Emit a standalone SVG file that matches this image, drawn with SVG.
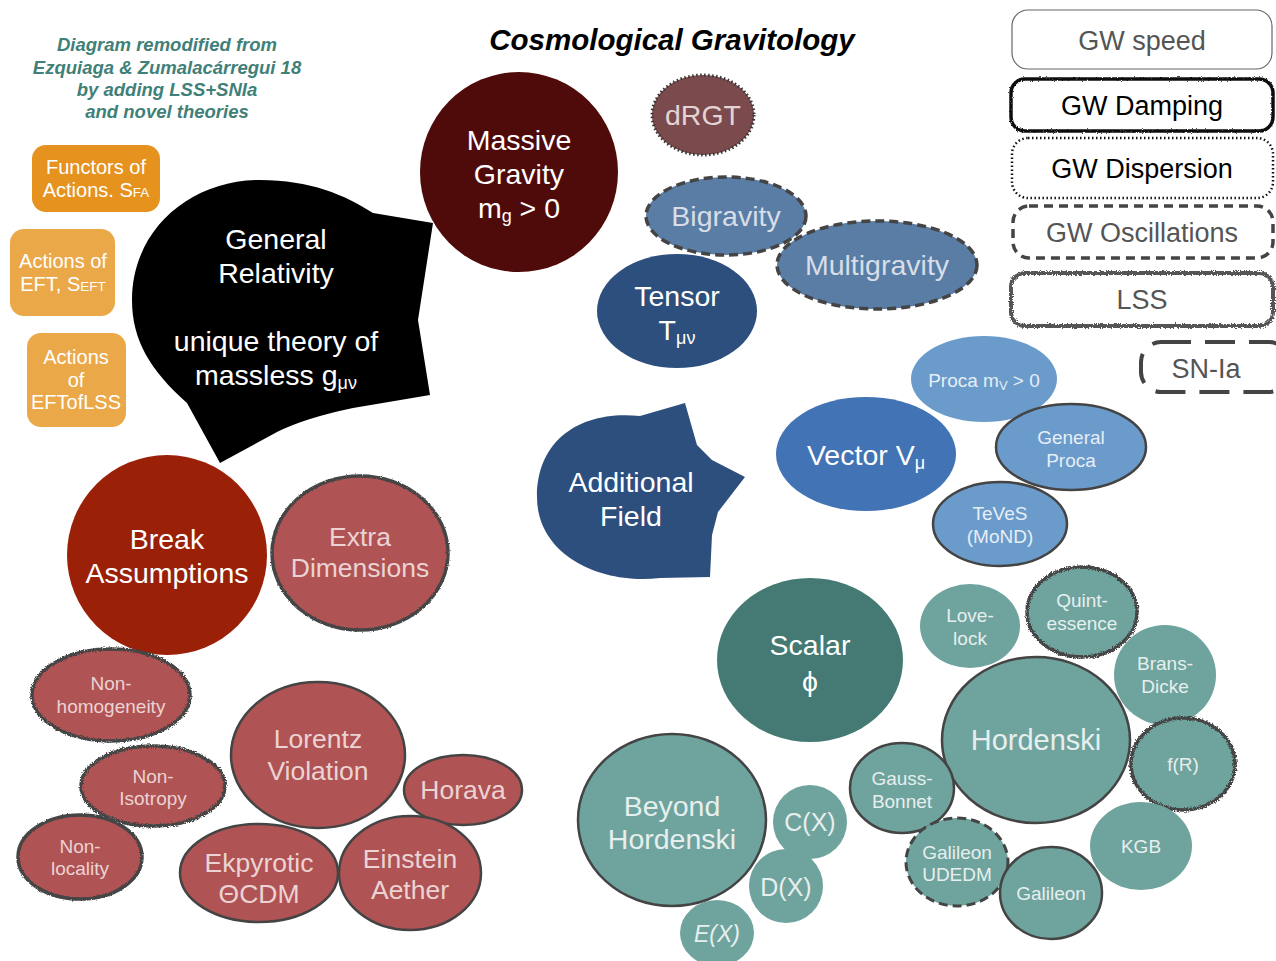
<svg xmlns="http://www.w3.org/2000/svg" width="1276" height="961" viewBox="0 0 1276 961">
<defs>
<filter id="rough" x="-10%" y="-10%" width="120%" height="120%">
<feTurbulence type="fractalNoise" baseFrequency="0.8" numOctaves="2" seed="3" result="n"/>
<feDisplacementMap in="SourceGraphic" in2="n" scale="4.5" xChannelSelector="R" yChannelSelector="G"/>
</filter>
<filter id="rough2" x="-10%" y="-10%" width="120%" height="120%">
<feTurbulence type="fractalNoise" baseFrequency="1.2" numOctaves="2" seed="7" result="n"/>
<feDisplacementMap in="SourceGraphic" in2="n" scale="2.5" xChannelSelector="R" yChannelSelector="G"/>
</filter>
</defs>
<style>
text{font-family:"Liberation Sans",Arial,sans-serif;text-anchor:middle}
.w{fill:#ffffff}
.big{font-size:28.5px}
.mid{font-size:26.5px}
.sm{font-size:19px}
.note{font-size:18.5px;font-weight:bold;font-style:italic;fill:#3F8078}
.orng{font-size:20px;fill:#ffffff}
.leg{font-size:27px}
.bd{fill:none;stroke:#444;stroke-width:2.5}
.rg{fill:none;stroke:#444;stroke-width:3.5;filter:url(#rough)}
.dash{fill:none;stroke:#444;stroke-width:3.5;stroke-dasharray:9 5}
.dot{fill:none;stroke:#333;stroke-width:2.5;stroke-dasharray:1.5 2.5}
.redS{fill:#B05354}
.redT{fill:#EBD3D3}
.tealS{fill:#6FA39D}
.tealT{fill:#E6EFEE}
.procaS{fill:#6A9BCB}
.procaT{fill:#E6EEF6}
</style>
<rect width="1276" height="961" fill="#ffffff"/>

<g id="title"><text x="672" y="50" style="font-size:29.5px;font-weight:bold;font-style:italic;fill:#000">Cosmological Gravitology</text></g>

<g id="note">
<text class="note" x="167" y="51">Diagram remodified from</text>
<text class="note" x="167" y="74">Ezquiaga &amp; Zumalacárregui 18</text>
<text class="note" x="167" y="96">by adding LSS+SNIa</text>
<text class="note" x="167" y="118">and novel theories</text>
</g>

<g id="functors">
<rect x="32" y="145" width="128" height="67" rx="14" fill="#E5921F"/>
<text class="orng" x="96" y="174">Functors of</text>
<text class="orng" x="96" y="197">Actions. S<tspan style="font-size:13.5px">FA</tspan></text>
</g>
<g id="actions-eft">
<rect x="10" y="229" width="105" height="87" rx="14" fill="#EBA848"/>
<text class="orng" x="63" y="268">Actions of</text>
<text class="orng" x="63" y="291">EFT, S<tspan style="font-size:13.5px">EFT</tspan></text>
</g>
<g id="actions-eftoflss">
<rect x="27" y="333" width="99" height="94" rx="14" fill="#EBA848"/>
<text class="orng" x="76" y="364">Actions</text>
<text class="orng" x="76" y="387">of</text>
<text class="orng" x="76" y="409">EFTofLSS</text>
</g>

<g id="connectors"></g>

<g id="general-relativity">
<path d="M373,213 L433,223 L418,320 L430,395 L353,408 Q305,418 277,432 L220,463 L187,403 C150,370 132,340 132,300 C132,230 190,180 260,180 C310,180 345,195 373,213 Z" fill="#000"/>
<text class="w big" x="276" y="249">General</text>
<text class="w big" x="276" y="283">Relativity</text>
<text class="w big" x="276" y="351">unique theory of</text>
<text class="w big" x="276" y="385">massless g<tspan style="font-size:18px" dy="4">μν</tspan></text>
</g>

<g id="massive-gravity">
<ellipse cx="519" cy="172" rx="99" ry="100" fill="#4F0B0A"/>
<text class="w big" x="519" y="150">Massive</text>
<text class="w big" x="519" y="184">Gravity</text>
<text class="w big" x="519" y="218">m<tspan style="font-size:18px" dy="4">g</tspan><tspan dy="-4"> &gt; 0</tspan></text>
</g>

<g id="drgt">
<ellipse cx="703" cy="115" rx="51" ry="40" fill="#7A4A4C"/>
<ellipse cx="703" cy="115" rx="51" ry="40" class="dot" style="stroke-width:3"/>
<text class="big" x="703" y="125" fill="#E3D3D3">dRGT</text>
</g>

<g id="bigravity">
<ellipse cx="726" cy="216" rx="80" ry="39" fill="#5A7DA5"/>
<ellipse cx="726" cy="216" rx="80" ry="39" class="dash"/>
<text class="big" x="726" y="226" fill="#D8DEE7">Bigravity</text>
</g>

<g id="multigravity">
<ellipse cx="877" cy="265" rx="100" ry="44" fill="#5A7DA5"/>
<ellipse cx="877" cy="265" rx="100" ry="44" class="dash"/>
<text class="big" x="877" y="275" fill="#D8DEE7">Multigravity</text>
</g>

<g id="tensor">
<ellipse cx="677" cy="311" rx="80" ry="57" fill="#2C4F7D"/>
<text class="w big" x="677" y="306">Tensor</text>
<text class="w big" x="677" y="340">T<tspan style="font-size:18px" dy="4">μν</tspan></text>
</g>

<g id="additional-field">
<path d="M640,416 L685,403 L697,445 L712,460 L745,477 L718,512 L712,535 L710,577 L660,578 C600,585 537,555 537,497 C537,440 580,410 640,416 Z" fill="#2C4F7D"/>
<text class="w big" x="631" y="492">Additional</text>
<text class="w big" x="631" y="526">Field</text>
</g>

<g id="vector">
<ellipse cx="866" cy="454" rx="90" ry="57" fill="#4273B4"/>
<text class="w big" x="866" y="465">Vector V<tspan style="font-size:18px" dy="4">μ</tspan></text>
</g>

<g id="proca">
<ellipse cx="984" cy="379" rx="73" ry="43" class="procaS"/>
<text class="sm procaT" x="984" y="387">Proca m<tspan style="font-size:13px" dy="3">V</tspan><tspan dy="-3"> &gt; 0</tspan></text>
</g>

<g id="general-proca">
<ellipse cx="1071" cy="447" rx="75" ry="43" class="procaS"/>
<ellipse cx="1071" cy="447" rx="75" ry="43" class="bd"/>
<text class="sm procaT" x="1071" y="444">General</text>
<text class="sm procaT" x="1071" y="467">Proca</text>
</g>

<g id="teves">
<ellipse cx="1000" cy="524" rx="67" ry="42" class="procaS"/>
<ellipse cx="1000" cy="524" rx="67" ry="42" class="bd"/>
<text class="sm procaT" x="1000" y="520">TeVeS</text>
<text class="sm procaT" x="1000" y="543">(MoND)</text>
</g>

<g id="scalar">
<ellipse cx="810" cy="660" rx="93" ry="82" fill="#457A74"/>
<text class="w big" x="810" y="655">Scalar</text>
<text class="w big" x="810" y="691">ϕ</text>
</g>

<g id="lovelock">
<ellipse cx="970" cy="626" rx="50" ry="42" class="tealS"/>
<text class="sm tealT" x="970" y="622">Love-</text>
<text class="sm tealT" x="970" y="645">lock</text>
</g>

<g id="quintessence">
<ellipse cx="1082" cy="612" rx="55" ry="45" class="tealS"/>
<ellipse cx="1082" cy="612" rx="55" ry="45" class="rg"/>
<text class="sm tealT" x="1082" y="607">Quint-</text>
<text class="sm tealT" x="1082" y="630">essence</text>
</g>

<g id="brans-dicke">
<ellipse cx="1165" cy="675" rx="51" ry="50" class="tealS"/>
<text class="sm tealT" x="1165" y="670">Brans-</text>
<text class="sm tealT" x="1165" y="693">Dicke</text>
</g>

<g id="hordenski">
<ellipse cx="1036" cy="740" rx="94" ry="83" class="tealS"/>
<ellipse cx="1036" cy="740" rx="94" ry="83" class="bd"/>
<text class="tealT" x="1036" y="750" style="font-size:29px">Hordenski</text>
</g>

<g id="f-r">
<ellipse cx="1183" cy="764" rx="52" ry="46" class="tealS"/>
<ellipse cx="1183" cy="764" rx="52" ry="46" class="rg"/>
<text class="sm tealT" x="1183" y="771">f(R)</text>
</g>

<g id="kgb">
<ellipse cx="1141" cy="846" rx="51" ry="44" class="tealS"/>
<text class="sm tealT" x="1141" y="853">KGB</text>
</g>

<g id="gauss-bonnet">
<ellipse cx="902" cy="788" rx="52" ry="45" class="tealS"/>
<ellipse cx="902" cy="788" rx="52" ry="45" class="bd"/>
<text class="sm tealT" x="902" y="785">Gauss-</text>
<text class="sm tealT" x="902" y="808">Bonnet</text>
</g>

<g id="galileon-udedm">
<ellipse cx="957" cy="862" rx="51" ry="44" class="tealS"/>
<ellipse cx="957" cy="862" rx="51" ry="44" class="dash" style="stroke-width:3"/>
<text class="sm tealT" x="957" y="859">Galileon</text>
<text class="sm tealT" x="957" y="881">UDEDM</text>
</g>

<g id="galileon">
<ellipse cx="1051" cy="893" rx="51" ry="46" class="tealS"/>
<ellipse cx="1051" cy="893" rx="51" ry="46" class="bd"/>
<text class="sm tealT" x="1051" y="900">Galileon</text>
</g>

<g id="beyond-hordenski">
<ellipse cx="672" cy="820" rx="94" ry="86" class="tealS"/>
<ellipse cx="672" cy="820" rx="94" ry="86" class="bd"/>
<text class="tealT" x="672" y="816" style="font-size:28.5px">Beyond</text>
<text class="tealT" x="672" y="849" style="font-size:28.5px">Hordenski</text>
</g>

<g id="c-x">
<ellipse cx="810" cy="822" rx="37" ry="37" class="tealS"/>
<text class="mid tealT" x="810" y="831" style="font-size:25px">C(X)</text>
</g>
<g id="d-x">
<ellipse cx="786" cy="886" rx="37" ry="37" class="tealS"/>
<text class="mid tealT" x="786" y="896" style="font-size:25px">D(X)</text>
</g>
<g id="e-x">
<ellipse cx="717" cy="933" rx="37" ry="33" class="tealS"/>
<text class="tealT" x="717" y="942" style="font-size:23px;font-style:italic">E(X)</text>
</g>

<g id="break-assumptions">
<circle cx="167" cy="555" r="100" fill="#9A2008"/>
<text class="w big" x="167" y="549">Break</text>
<text class="w big" x="167" y="583">Assumptions</text>
</g>

<g id="extra-dimensions">
<ellipse cx="360" cy="553" rx="88" ry="77" class="redS"/>
<ellipse cx="360" cy="553" rx="88" ry="77" class="rg" style="filter:url(#rough2)"/>
<text class="mid redT" x="360" y="546">Extra</text>
<text class="mid redT" x="360" y="577">Dimensions</text>
</g>

<g id="non-homogeneity">
<ellipse cx="111" cy="695" rx="79" ry="46" class="redS"/>
<ellipse cx="111" cy="695" rx="79" ry="46" class="rg"/>
<text class="sm redT" x="111" y="690">Non-</text>
<text class="sm redT" x="111" y="713">homogeneity</text>
</g>

<g id="non-isotropy">
<ellipse cx="153" cy="786" rx="72" ry="40" class="redS"/>
<ellipse cx="153" cy="786" rx="72" ry="40" class="rg"/>
<text class="sm redT" x="153" y="783">Non-</text>
<text class="sm redT" x="153" y="805">Isotropy</text>
</g>

<g id="non-locality">
<ellipse cx="80" cy="857" rx="62" ry="42" class="redS"/>
<ellipse cx="80" cy="857" rx="62" ry="42" class="rg" style="filter:url(#rough2)"/>
<text class="sm redT" x="80" y="853">Non-</text>
<text class="sm redT" x="80" y="875">locality</text>
</g>

<g id="lorentz-violation">
<ellipse cx="318" cy="755" rx="87" ry="73" class="redS"/>
<ellipse cx="318" cy="755" rx="87" ry="73" class="bd"/>
<text class="mid redT" x="318" y="748">Lorentz</text>
<text class="mid redT" x="318" y="780">Violation</text>
</g>

<g id="horava">
<ellipse cx="463" cy="790" rx="59" ry="35" class="redS"/>
<ellipse cx="463" cy="790" rx="59" ry="35" class="bd"/>
<text class="mid redT" x="463" y="799">Horava</text>
</g>

<g id="ekpyrotic">
<ellipse cx="259" cy="873" rx="79" ry="49" class="redS"/>
<ellipse cx="259" cy="873" rx="79" ry="49" class="bd"/>
<text class="mid redT" x="259" y="872">Ekpyrotic</text>
<text class="mid redT" x="259" y="903">ΘCDM</text>
</g>

<g id="einstein-aether">
<ellipse cx="410" cy="873" rx="71" ry="57" class="redS"/>
<ellipse cx="410" cy="873" rx="71" ry="57" class="bd"/>
<text class="mid redT" x="410" y="868">Einstein</text>
<text class="mid redT" x="410" y="899">Aether</text>
</g>

<g id="legend-gw-speed">
<rect x="1012" y="10" width="260" height="59" rx="16" fill="none" stroke="#666" stroke-width="1.2"/>
<text class="leg" x="1142" y="50" fill="#555">GW speed</text>
</g>
<g id="legend-gw-damping">
<rect x="1011" y="79" width="262" height="52" rx="14" fill="none" stroke="#111" stroke-width="3.5" filter="url(#rough2)"/>
<text class="leg" x="1142" y="115" fill="#000">GW Damping</text>
</g>
<g id="legend-gw-dispersion">
<rect x="1012" y="138" width="261" height="60" rx="16" fill="none" stroke="#111" stroke-width="2.5" stroke-dasharray="1.5 2.5"/>
<text class="leg" x="1142" y="178" fill="#000">GW Dispersion</text>
</g>
<g id="legend-gw-oscillations">
<rect x="1013" y="206" width="260" height="52" rx="16" fill="none" stroke="#444" stroke-width="3.5" stroke-dasharray="9 6"/>
<text class="leg" x="1142" y="242" fill="#555">GW Oscillations</text>
</g>
<g id="legend-lss">
<rect x="1011" y="273" width="262" height="53" rx="14" fill="none" stroke="#555" stroke-width="4" filter="url(#rough)"/>
<text class="leg" x="1142" y="309" fill="#555">LSS</text>
</g>
<g id="legend-sn-ia">
<rect x="1141" y="342" width="148" height="50" rx="20" fill="none" stroke="#444" stroke-width="4" stroke-dasharray="30 14"/>
<text class="leg" x="1206" y="378" fill="#555">SN-Ia</text>
</g>
</svg>
